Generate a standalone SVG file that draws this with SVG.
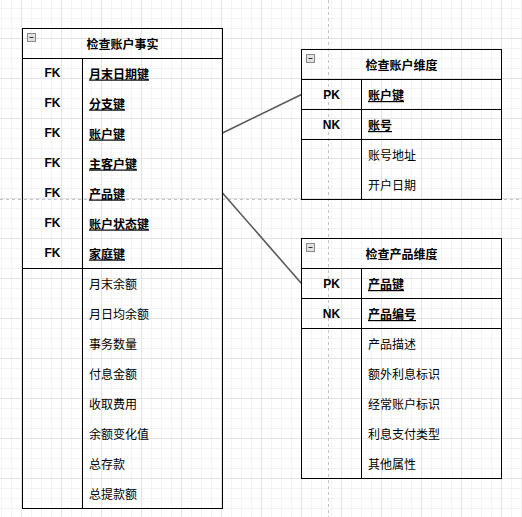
<svg xmlns="http://www.w3.org/2000/svg" width="522" height="517" viewBox="0 0 522 517">
<defs>
<pattern id="grid" x="21" y="38" width="40" height="40" patternUnits="userSpaceOnUse">
<path d="M10.5 0V40M20.5 0V40M30.5 0V40M0 10.5H40M0 20.5H40M0 30.5H40" stroke="#f3f3f3" stroke-width="1" fill="none"/>
<path d="M0.5 0V40M0 0.5H40" stroke="#e3e3e3" stroke-width="1" fill="none"/>
</pattern>
</defs>
<style>
.tb{fill:none;stroke:#000;stroke-width:1}
.ln{stroke:#000;stroke-width:1;fill:none}
.ic{fill:#e2e2e2;stroke:#8a8a8a;stroke-width:1}
.icm{stroke:#333;stroke-width:1}
.t{font-family:"Noto Sans CJK SC","Noto Sans",sans-serif;font-size:12px;fill:#000;dominant-baseline:central}
.ti{font-weight:bold;text-anchor:middle}
.k{font-weight:bold;text-anchor:middle;font-family:"Liberation Sans","Noto Sans CJK SC",sans-serif}
.kf{font-weight:bold;text-decoration:underline}
.pb{stroke:#c4c4c4;stroke-width:1;stroke-dasharray:3 3;fill:none}
.cn{stroke:#5a5a5a;stroke-width:1.6;fill:none}
</style>
<rect width="522" height="517" fill="#fff"/>
<rect width="522" height="517" fill="url(#grid)"/>
<path class="pb" d="M0 199.5H522M328.5 0V517"/>
<g id="connectors">
<path class="cn" d="M222.5 133L301.5 94.5"/>
<path class="cn" d="M222.5 193L301.5 283.5"/>
</g>
<g id="fact">
<rect class="tb" x="22.5" y="28.5" width="200" height="480"/>
<path class="ln" d="M22.5 58.5H222.5M22.5 268.5H222.5M82.5 58.5V508.5"/>
<rect class="ic" x="27.5" y="33.5" width="8" height="8"/>
<path class="icm" d="M29.5 37.5H33.5"/>
<text class="t ti" x="122.5" y="43.5">检查账户事实</text>
<text class="t k" x="52.5" y="73">FK</text>
<text class="t k" x="52.5" y="103">FK</text>
<text class="t k" x="52.5" y="133">FK</text>
<text class="t k" x="52.5" y="163">FK</text>
<text class="t k" x="52.5" y="193">FK</text>
<text class="t k" x="52.5" y="223">FK</text>
<text class="t k" x="52.5" y="253">FK</text>
<text class="t kf" x="89" y="73">月末日期键</text>
<text class="t kf" x="89" y="103">分支键</text>
<text class="t kf" x="89" y="133">账户键</text>
<text class="t kf" x="89" y="163">主客户键</text>
<text class="t kf" x="89" y="193">产品键</text>
<text class="t kf" x="89" y="223">账户状态键</text>
<text class="t kf" x="89" y="253">家庭键</text>
<text class="t" x="89" y="283">月末余额</text>
<text class="t" x="89" y="313">月日均余额</text>
<text class="t" x="89" y="343">事务数量</text>
<text class="t" x="89" y="373">付息金额</text>
<text class="t" x="89" y="403">收取费用</text>
<text class="t" x="89" y="433">余额变化值</text>
<text class="t" x="89" y="463">总存款</text>
<text class="t" x="89" y="493">总提款额</text>
</g>
<g id="account">
<rect class="tb" x="301.5" y="49.5" width="200" height="150"/>
<path class="ln" d="M301.5 79.5H501.5M301.5 109.5H501.5M301.5 139.5H501.5M361.5 79.5V199.5"/>
<rect class="ic" x="306.5" y="54.5" width="8" height="8"/>
<path class="icm" d="M308.5 58.5H312.5"/>
<text class="t ti" x="401.5" y="64.5">检查账户维度</text>
<text class="t k" x="331.5" y="94.5">PK</text>
<text class="t k" x="331.5" y="124.5">NK</text>
<text class="t kf" x="368" y="94.5">账户键</text>
<text class="t kf" x="368" y="124.5">账号</text>
<text class="t" x="368" y="154.5">账号地址</text>
<text class="t" x="368" y="184.5">开户日期</text>
</g>
<g id="product">
<rect class="tb" x="301.5" y="238.5" width="200" height="240"/>
<path class="ln" d="M301.5 268.5H501.5M301.5 298.5H501.5M301.5 328.5H501.5M361.5 268.5V478.5"/>
<rect class="ic" x="306.5" y="243.5" width="8" height="8"/>
<path class="icm" d="M308.5 247.5H312.5"/>
<text class="t ti" x="401.5" y="253.5">检查产品维度</text>
<text class="t k" x="331.5" y="283.5">PK</text>
<text class="t k" x="331.5" y="313.5">NK</text>
<text class="t kf" x="368" y="283.5">产品键</text>
<text class="t kf" x="368" y="313.5">产品编号</text>
<text class="t" x="368" y="343.5">产品描述</text>
<text class="t" x="368" y="373.5">额外利息标识</text>
<text class="t" x="368" y="403.5">经常账户标识</text>
<text class="t" x="368" y="433.5">利息支付类型</text>
<text class="t" x="368" y="463.5">其他属性</text>
</g>
</svg>
